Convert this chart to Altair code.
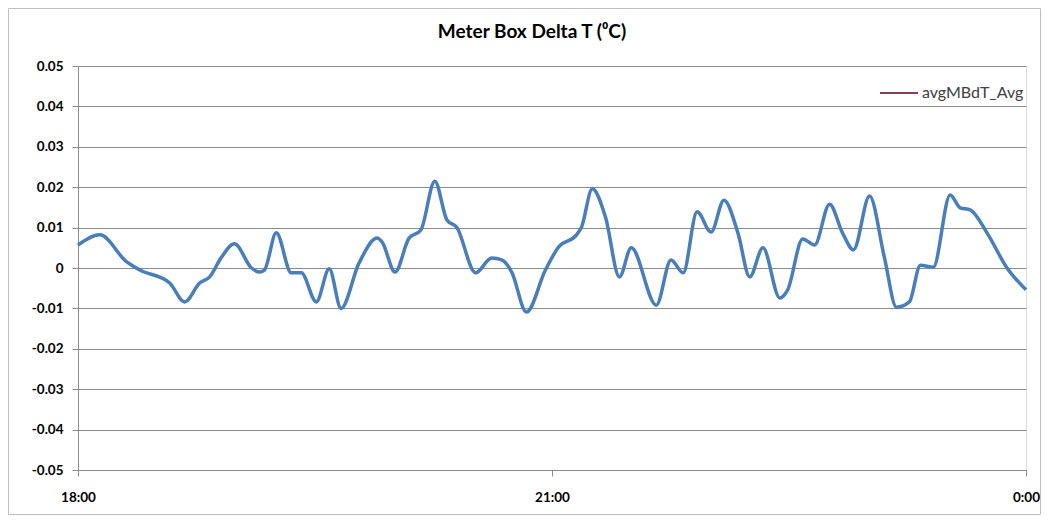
import altair as alt
import pandas as pd

# minutes after 18:00
minutes = [0, 8.3, 18.5, 23.5, 34.8, 40.5, 46.2, 50, 54.5, 59.4, 65.9, 68.9, 70.8, 75.3,
           81, 84.8, 90.5, 95.4, 99.9, 106.7, 113.6, 115.5, 120.4, 125.7, 130.2, 135.5,
           140.1, 143.8, 151, 157.1, 160.9, 164.7, 170.3, 177.5, 182.5, 189.3, 191.2,
           195.3, 200.3, 205.6, 210.1, 219.6, 225.2, 229.8, 235.1, 240.4, 245.3, 250.6,
           255.1, 260.1, 266.5, 269.5, 275.2, 279.7, 285.4, 290.3, 294.5, 300.6, 306.2,
           310.8, 315.7, 319.9, 324.8, 331.2, 335, 338.8, 345.2, 352.8, 360]
values = [0.0057, 0.0082, 0.0015, -0.0005, -0.0037, -0.0084, -0.0037, -0.0022, 0.0027,
          0.0060, 0.0000, -0.0010, -0.0005, 0.0087, -0.0012, -0.0012, -0.0084, -0.0002,
          -0.0100, 0.0012, 0.0074, 0.0064, -0.0010, 0.0074, 0.0094, 0.0215, 0.0119,
          0.0101, -0.0012, 0.0025, 0.0020, -0.0010, -0.0109, -0.0005, 0.0052, 0.0082,
          0.0101, 0.0196, 0.0126, -0.0022, 0.0050, -0.0092, 0.0020, -0.0012, 0.0139,
          0.0089, 0.0168, 0.0087, -0.0022, 0.0050, -0.0074, -0.0054, 0.0072, 0.0057,
          0.0158, 0.0087, 0.0045, 0.0178, 0.0027, -0.0097, -0.0084, 0.0007, 0.0002,
          0.0181, 0.0149, 0.0144, 0.0087, 0.0000, -0.0054]
series_name = "avgMBdT_Avg"
x_tick_minutes = [0, 180, 360]
x_tick_labels = ["18:00", "21:00", "0:00"]
y_ticks = [-0.05, -0.04, -0.03, -0.02, -0.01, 0, 0.01, 0.02, 0.03, 0.04, 0.05]
title_text = "Meter Box Delta T (\u2070C)"

df = pd.DataFrame({"minutes": minutes, "value": values, "series": series_name})
legend_df = pd.DataFrame({"series": [series_name]})

label_expr = " : ".join(
    f"datum.value == {m} ? '{l}'" for m, l in zip(x_tick_minutes, x_tick_labels)
) + " : ''"

FONT = "Lato"
GRID = "#8C8C8C"
LINE_COLOR = "#4A7EBB"
LEGEND_SWATCH = "#8E3B55"

line = alt.Chart(df).mark_line(
    interpolate="monotone", strokeWidth=3.5, color=LINE_COLOR, clip=False
).encode(
    x=alt.X("minutes:Q", scale=alt.Scale(domain=[0, 360], nice=False, zero=False),
            axis=alt.Axis(values=x_tick_minutes, labelExpr=label_expr, title=None,
                          grid=False, tickSize=6, labelPadding=14, domainColor=GRID,
                          tickColor=GRID, labelFont=FONT, labelFontWeight="bold",
                          labelFontSize=13.5, labelColor="#000000", labelFlush=False)),
    y=alt.Y("value:Q", scale=alt.Scale(domain=[-0.05, 0.05], nice=False, zero=False),
            axis=alt.Axis(values=y_ticks, title=None, grid=True, gridColor=GRID,
                          gridWidth=1, tickSize=6, labelPadding=9, domainColor=GRID,
                          tickColor=GRID, labelFont=FONT, labelFontWeight="bold",
                          labelFontSize=13.5, labelColor="#000000",
                          labelExpr="abs(datum.value) < 1e-9 ? '0' : (datum.value < 0 ? '-' : '') + format(abs(datum.value), '.2f')")),
)

legend_swatch = alt.Chart(legend_df).mark_rule(
    color=LEGEND_SWATCH, strokeWidth=2, clip=False
).encode(x=alt.value(802), x2=alt.value(840), y=alt.value(27))

legend_text = alt.Chart(legend_df).mark_text(
    align="left", baseline="middle", font=FONT, fontSize=16, color="#404040", clip=False
).encode(x=alt.value(844), y=alt.value(27), text="series:N")

frame = alt.Chart(legend_df).mark_rect(
    fill="white", fillOpacity=0, stroke="#BFBFBF", strokeWidth=1, clip=False
).encode(
    x=alt.value(-69.5), x2=alt.value(962.5), y=alt.value(-57.5), y2=alt.value(448.5)
)

chart = alt.layer(frame, line, legend_swatch, legend_text).properties(
    width=948, height=404,
    title=alt.TitleParams(title_text, font=FONT, fontSize=19, fontWeight="bold",
                          color="#000000", anchor="middle", dx=-20, offset=0, dy=34,
                          frame="group"),
    autosize=alt.AutoSizeParams(type="none"),
    padding={"left": 70, "top": 58, "right": 16, "bottom": 45},
).configure_view(stroke=None).configure(background="white")

chart.save("out.html", embed_options={"renderer": "svg", "actions": False})
